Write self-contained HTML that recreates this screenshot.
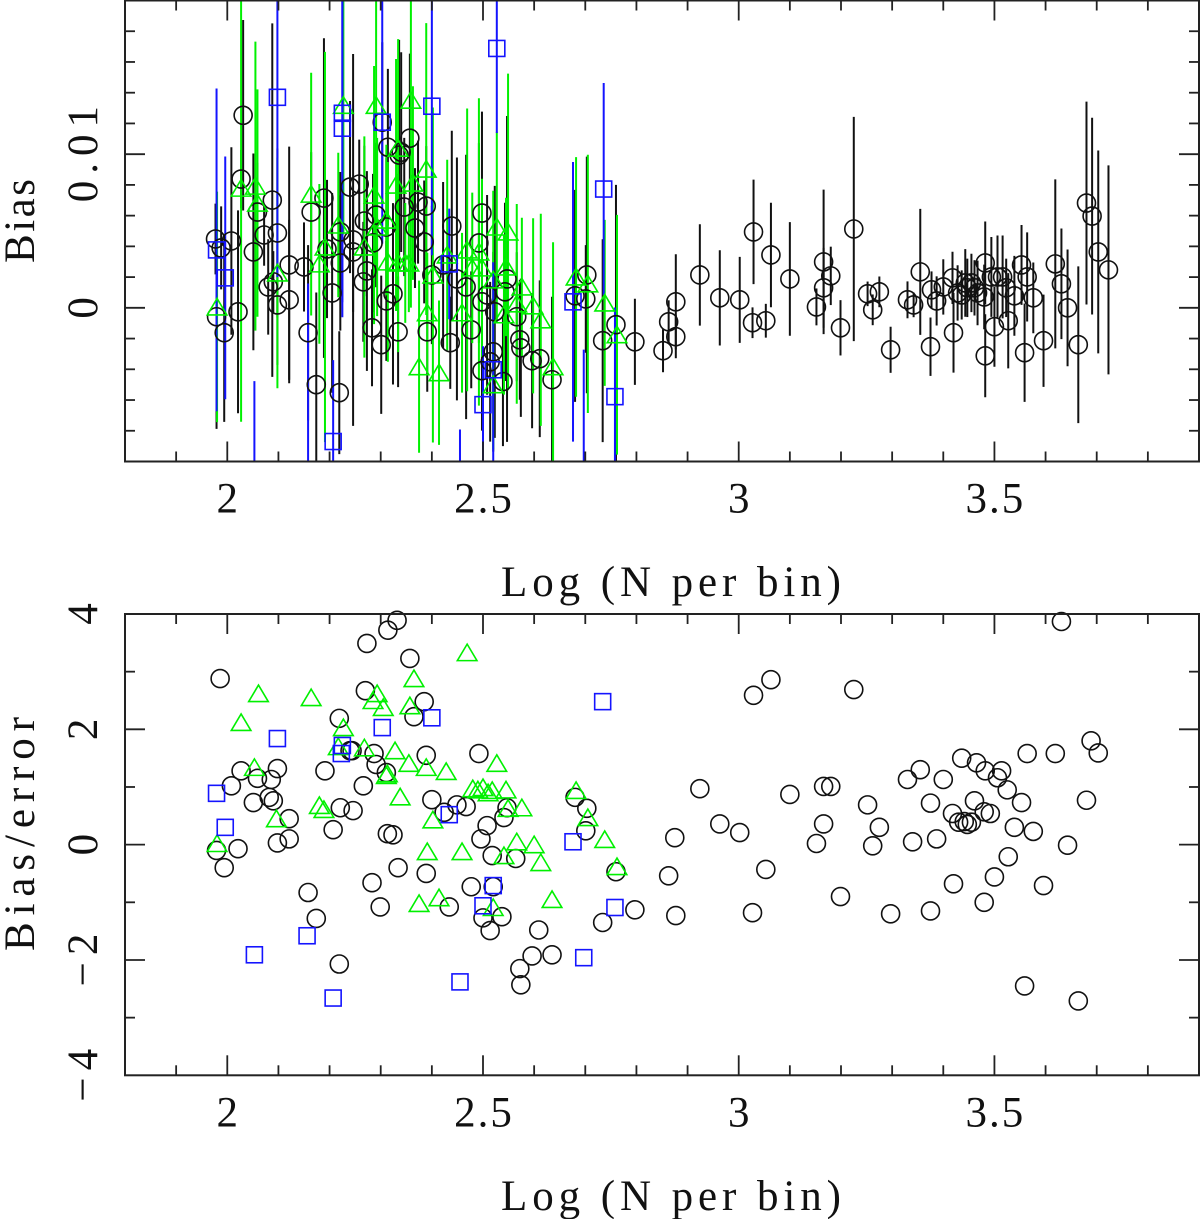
<!DOCTYPE html>
<html lang="en">
<head>
<meta charset="utf-8">
<title>Bias vs Log N per bin</title>
<style>
html,body{margin:0;padding:0;background:#fff;}
svg{display:block;}
text{font-family:"Liberation Serif",serif;font-size:43px;fill:#111;}
</style>
</head>
<body>
<svg id="chart" xmlns="http://www.w3.org/2000/svg" width="1200" height="1219" viewBox="0 0 1200 1219">
<defs>
<clipPath id="clip-top"><rect x="125" y="0.5" width="1074" height="461"/></clipPath>
</defs>
<g id="top-marks" clip-path="url(#clip-top)"></g>
<g id="bottom-marks"></g>
<g id="axes"></g>
<text x="671" y="596" text-anchor="middle" textLength="340" lengthAdjust="spacing">Log (N per bin)</text>
<text x="671" y="1210" text-anchor="middle" textLength="340" lengthAdjust="spacing">Log (N per bin)</text>
<text transform="translate(34,221) rotate(-90)" text-anchor="middle" textLength="84" lengthAdjust="spacing">Bias</text>
<text transform="translate(34,834) rotate(-90)" text-anchor="middle" textLength="234" lengthAdjust="spacing">Bias/error</text>
</svg>
<script>
// Shared tick data
var xMinorTicks = [1.9,2,2.1,2.2,2.3,2.4,2.5,2.6,2.7,2.8,2.9,3,3.1,3.2,3.3,3.4,3.5,3.6,3.7,3.8];
var xMajorTicks = [2,2.5,3,3.5];
var xTickLabels = ["2","2.5","3","3.5"];
var biasMinorTicks = [-0.008,-0.006,-0.004,-0.002,0,0.002,0.004,0.006,0.008,0.01,0.012,0.014,0.016,0.018];
var biasMajorTicks = [0,0.01];
var biasTickLabels = ["0","0.01"];
var ratioMinorTicks = [-3,-2,-1,0,1,2,3];
var ratioMajorTicks = [-4,-2,0,2,4];
var ratioTickLabels = ["\u22124","\u22122","0","2","4"];

// Top panel: black series
var blackBiasLogN = [1.977,1.979,1.988,1.994,2.008,2.021,2.027,2.031,2.051,2.059,2.072,2.080,2.088,2.090,2.098,2.098,2.121,2.121,2.150,2.158,2.164,2.174,2.189,2.195,2.205,2.219,2.221,2.221,2.240,2.246,2.246,2.258,2.266,2.268,2.273,2.283,2.285,2.291,2.301,2.303,2.311,2.311,2.314,2.324,2.334,2.336,2.340,2.346,2.357,2.367,2.373,2.389,2.385,2.391,2.400,2.422,2.436,2.439,2.449,2.467,2.477,2.492,2.498,2.498,2.498,2.508,2.514,2.520,2.523,2.539,2.543,2.547,2.566,2.572,2.574,2.596,2.611,2.635,2.680,2.701,2.703,2.734,2.760,2.797,2.852,2.863,2.877,2.877,2.924,2.963,3.002,3.027,3.029,3.053,3.063,3.100,3.152,3.166,3.166,3.180,3.199,3.225,3.252,3.262,3.275,3.297,3.330,3.342,3.355,3.375,3.377,3.387,3.400,3.418,3.420,3.428,3.436,3.443,3.447,3.455,3.461,3.467,3.482,3.480,3.482,3.494,3.500,3.506,3.516,3.523,3.527,3.539,3.553,3.559,3.564,3.576,3.596,3.619,3.631,3.643,3.664,3.680,3.691,3.703,3.723];
var blackBias = [0.00448,-0.00058,0.0039,-0.00162,0.00435,-0.00026,0.00838,0.01253,0.00364,0.00623,0.00474,0.00136,0.00701,0.00169,0.00487,0.00019,0.00279,0.00052,0.00266,-0.00162,0.00623,-0.005,0.00714,0.00383,0.00097,-0.00552,0.00292,0.00494,0.00786,0.00442,0.00364,0.00805,0.00169,0.00565,0.0024,-0.0013,0.00422,0.00604,-0.0024,0.01208,0.00045,0.00526,0.01045,0.00091,-0.00156,0.00994,0.01013,0.00656,0.01104,0.00519,0.00688,0.00662,0.00429,-0.00156,0.00214,0.00279,-0.00227,0.00532,0.00188,0.00136,-0.00143,0.00422,0.00617,0.00039,-0.00409,0.00084,-0.00351,-0.00286,-0.00026,-0.0048,0.00104,0.00188,-0.00058,-0.00208,-0.0026,-0.00344,-0.00331,-0.00468,0.00078,0.00058,0.00214,-0.00214,-0.0011,-0.00221,-0.00279,-0.00091,0.00039,-0.00188,0.00214,0.00065,0.00052,-0.00097,0.00494,-0.00084,0.00344,0.00188,0.00006,0.00299,0.0013,0.00208,-0.0013,0.00513,0.00091,-0.00013,0.00104,-0.00273,0.00052,0.00019,0.00234,-0.00253,0.00117,0.00045,0.00136,0.00195,-0.00162,0.00097,0.00084,0.00162,0.0013,0.00162,0.0013,0.00097,0.00292,0.00071,-0.00312,0.00201,-0.00123,0.00201,0.00201,0.0013,-0.00084,0.00078,0.00279,-0.00292,0.00201,0.00065,-0.00214,0.00286,0.00156,0,-0.0024,0.00682,0.00597,0.00364,0.00247];
var blackErr = [0.0023,0.0073,0.0027,0.0058,0.0061,0.0066,0.0019,0.0062,0.0064,0.0032,0.002,0.0031,0.0115,0.002,0.0055,0.0039,0.0077,0.0052,0.0029,0.0057,0.0039,0.006,0.0104,0.0045,0.0065,0.004,0.0044,0.0039,0.0056,0.0121,0.0039,0.0029,0.0039,0.0049,0.0065,0.0038,0.0045,0.0047,0.0045,0.0052,0.0039,0.0045,0.0051,0.0059,0.0036,0.0075,0.0065,0.0045,0.0055,0.0039,0.004,0.0039,0.004,0.0039,0.0045,0.0054,0.003,0.0062,0.0079,0.0086,0.0038,0.0065,0.0066,0.0045,0.0039,0.0065,0.0052,0.0065,0.0082,0.0042,0.0058,0.0106,0.0042,0.0039,0.0045,0.0044,0.0051,0.0054,0.0069,0.0035,0.0077,0.0066,0.0091,0.0028,0.0014,0.0014,0.0031,0.0014,0.0033,0.0031,0.0028,0.001,0.0034,0.0011,0.0034,0.0037,0.0012,0.0047,0.0026,0.0019,0.0018,0.0073,0.0008,0.001,0.001,0.0015,0.0012,0.0008,0.0041,0.0019,0.0012,0.0016,0.0018,0.0017,0.0026,0.0018,0.0016,0.0022,0.0019,0.0019,0.0018,0.0021,0.0027,0.0021,0.0027,0.0026,0.0026,0.0027,0.0027,0.0019,0.0031,0.0026,0.0026,0.0032,0.0029,0.0023,0.003,0.0055,0.0036,0.0038,0.0051,0.0066,0.0064,0.0066,0.0068];

// Top panel: green series
var greenBiasLogN = [1.980,2.027,2.055,2.059,2.098,2.164,2.180,2.191,2.217,2.227,2.268,2.287,2.291,2.293,2.311,2.314,2.330,2.334,2.334,2.348,2.355,2.359,2.363,2.375,2.389,2.391,2.402,2.414,2.430,2.459,2.469,2.479,2.492,2.498,2.520,2.520,2.527,2.541,2.545,2.549,2.566,2.576,2.598,2.613,2.637,2.682,2.705,2.738,2.762];
var greenBias = [0.00006,0.00779,0.00792,0.00682,0.00227,0.0074,0.00286,0.00396,0.00539,0.01318,0.00396,0.00734,0.01318,0.00526,0.00571,0.00299,0.00799,0.01039,0.00292,0.00292,0.00292,0.01351,0.00812,-0.00383,0.00903,-0.00032,0.00214,-0.00422,0.00344,-0.00032,0.00377,0.0026,0.00364,0.0026,0.00182,-0.005,0.00526,-0.00045,0.00266,0.00494,0.00026,0.00136,0.00013,-0.00078,-0.00383,0.00201,0.00156,0.00032,-0.00175];
var greenErr = [0.0075,0.0152,0.0094,0.0074,0.0075,0.0079,0.0052,0.0127,0.0047,0.0084,0.0072,0.0084,0.0104,0.0058,0.0049,0.0065,0.0082,0.0071,0.0058,0.0039,0.0032,0.0135,0.0063,0.0056,0.0095,0.0039,0.0109,0.0047,0.0062,0.0052,0.0092,0.0049,0.01,0.0058,0.0058,0.0042,0.0062,0.0052,0.0045,0.0103,0.0065,0.0045,0.0057,0.0069,0.0081,0.0078,0.0084,0.0054,0.0078];

// Top panel: blue series
var blueBiasLogN = [1.979,1.996,2.053,2.098,2.158,2.207,2.225,2.225,2.303,2.400,2.434,2.455,2.500,2.520,2.527,2.676,2.697,2.736,2.758];
var blueBias = [0.00377,0.00195,-0.01247,0.0137,-0.01052,-0.0087,0.01266,0.01169,0.01208,0.01312,0.00286,-0.01182,-0.0063,-0.00403,0.01688,0.00039,-0.01052,0.00773,-0.00578];
var blueErr = [0.0105,0.0079,0.0077,0.0117,0.0121,0.0053,0.0123,0.0123,0.0079,0.0097,0.0036,0.0039,0.0038,0.007,0.0055,0.0091,0.0078,0.0069,0.0058];

// Bottom panel: black series
var blackRatioLogN = [1.979,1.986,1.994,2.008,2.021,2.027,2.051,2.059,2.082,2.086,2.090,2.098,2.098,2.121,2.121,2.158,2.174,2.191,2.207,2.219,2.219,2.221,2.240,2.244,2.246,2.266,2.270,2.273,2.283,2.287,2.291,2.299,2.311,2.313,2.314,2.324,2.332,2.334,2.357,2.365,2.385,2.389,2.389,2.400,2.424,2.434,2.449,2.467,2.477,2.492,2.496,2.500,2.508,2.514,2.518,2.520,2.537,2.541,2.547,2.564,2.572,2.574,2.596,2.609,2.635,2.680,2.703,2.701,2.734,2.760,2.797,2.863,2.875,2.877,2.924,2.963,3.002,3.027,3.029,3.053,3.063,3.100,3.152,3.166,3.166,3.180,3.199,3.225,3.252,3.262,3.275,3.297,3.330,3.340,3.355,3.375,3.375,3.387,3.400,3.418,3.420,3.430,3.436,3.441,3.447,3.455,3.461,3.465,3.480,3.480,3.482,3.492,3.500,3.506,3.514,3.525,3.527,3.539,3.553,3.559,3.564,3.576,3.596,3.619,3.631,3.643,3.664,3.680,3.689,3.703];
var blackRatio = [-0.10,2.88,-0.40,1.02,-0.07,1.28,0.73,1.15,0.82,1.13,0.76,1.32,0.03,0.45,0.10,-0.83,-1.28,1.28,0.26,-2.07,2.19,0.64,1.63,1.63,0.59,1.02,2.67,3.49,-0.66,1.58,1.39,-1.08,1.25,0.19,3.72,0.17,3.89,-0.40,3.23,2.22,2.48,1.55,-0.50,0.78,0.56,-1.08,0.69,0.66,-0.73,1.58,0.10,-1.27,0.33,-1.49,-0.19,-0.73,-1.25,0.47,0.64,-0.24,-2.15,-2.43,-1.93,-1.48,-1.91,0.82,0.63,0.24,-1.35,-0.47,-1.13,-0.54,0.12,-1.23,0.97,0.36,0.21,-1.18,2.59,-0.43,2.86,0.87,0.02,1.01,0.36,1.01,-0.90,2.69,0.69,-0.02,0.30,-1.20,1.13,0.05,1.30,0.72,-1.15,0.10,1.13,0.54,-0.68,0.39,1.50,0.40,0.35,0.39,0.76,1.42,0.57,-1.0,1.28,0.54,-0.56,1.16,1.28,0.95,-0.21,0.30,0.73,-2.45,1.58,0.23,-0.71,1.58,3.87,-0.01,-2.71,0.77,1.80,1.59];

// Bottom panel: green series
var greenRatioLogN = [1.980,2.027,2.053,2.061,2.096,2.164,2.180,2.189,2.217,2.227,2.268,2.285,2.293,2.305,2.311,2.313,2.328,2.338,2.355,2.357,2.365,2.375,2.389,2.391,2.402,2.414,2.428,2.459,2.469,2.480,2.490,2.500,2.510,2.518,2.527,2.545,2.549,2.566,2.576,2.600,2.541,2.613,2.635,2.520,2.682,2.705,2.738,2.762];
var greenRatio = [0.02,2.12,1.34,2.62,0.45,2.55,0.68,0.61,1.70,2.03,1.68,2.50,2.62,2.38,1.20,1.23,1.63,0.83,1.41,2.41,2.88,-1.02,1.34,-0.12,0.43,-0.92,1.27,-0.12,3.33,0.97,0.95,0.99,0.90,0.94,1.41,0.95,0.63,0.05,0.64,0,-0.19,-0.31,-0.95,-1.09,0.94,0.47,0.09,-0.38];

// Bottom panel: blue series
var blueRatioLogN = [1.979,1.996,2.053,2.098,2.156,2.207,2.225,2.223,2.303,2.400,2.434,2.455,2.500,2.520,2.676,2.697,2.734,2.758];
var blueRatio = [0.89,0.30,-1.91,1.84,-1.58,-2.66,1.72,1.58,2.03,2.20,0.52,-2.38,-1.06,-0.71,0.05,-1.96,2.48,-1.09];

var NS = 'http://www.w3.org/2000/svg';
var LEFT = 125, RIGHT = 1199;
var TOP1 = 0.5, BOT1 = 461.5, TOP2 = 614, BOT2 = 1075.3;
var INK = '#111';
var GREEN = '#00f000';
var BLUE = '#1414ff';

function xScale(v){ return LEFT + (v - 1.8) * (RIGHT - LEFT) / (3.9 - 1.8); }
function yBias(v){ return BOT1 - (v + 0.01) * (BOT1 - TOP1) / 0.03; }
function yRatio(v){ return BOT2 - (v + 4) * (BOT2 - TOP2) / 8; }

function make(tag, attrs, parent){
  var el = document.createElementNS(NS, tag);
  for (var k in attrs) el.setAttribute(k, attrs[k]);
  parent.appendChild(el);
  return el;
}

function drawBar(parent, x, y1, y2, color){
  var el = make('line', {x1:x, x2:x, y1:y1, y2:y2, stroke:color, 'stroke-width':2}, parent);
  
  
}

function drawCircle(parent, x, y){
  var el = make('circle', {cx:x, cy:y, r:9, fill:'none', stroke:INK, 'stroke-width':1.6}, parent);
  
  
}

function drawTriangle(parent, x, y){
  var pts = x + ',' + (y - 8.5) + ' ' + (x + 9.8) + ',' + (y + 8) + ' ' + (x - 9.8) + ',' + (y + 8);
  var el = make('polygon', {points:pts, fill:'none', stroke:GREEN, 'stroke-width':1.6}, parent);
  
  
}

function drawSquare(parent, x, y){
  var el = make('rect', {x:x - 8, y:y - 8, width:16, height:16, fill:'none', stroke:BLUE, 'stroke-width':1.6}, parent);
  
  
}

function drawBars(parent, xs, vals, errs, color){
  for (var i = 0; i < xs.length; i++) {
    drawBar(parent, xScale(xs[i]), yBias(vals[i] + errs[i]), yBias(vals[i] - errs[i]), color);
  }
}

function drawMarks(parent, xs, vals, yFn, marker){
  for (var i = 0; i < xs.length; i++) {
    marker(parent, xScale(xs[i]), yFn(vals[i]));
  }
}

var topG = document.getElementById('top-marks');
var botG = document.getElementById('bottom-marks');

drawBars(topG, blackBiasLogN, blackBias, blackErr, INK);
drawBars(topG, greenBiasLogN, greenBias, greenErr, GREEN);
drawBars(topG, blueBiasLogN, blueBias, blueErr, BLUE);
drawMarks(topG, blackBiasLogN, blackBias, yBias, drawCircle);
drawMarks(topG, greenBiasLogN, greenBias, yBias, drawTriangle);
drawMarks(topG, blueBiasLogN, blueBias, yBias, drawSquare);

drawMarks(botG, blackRatioLogN, blackRatio, yRatio, drawCircle);
drawMarks(botG, greenRatioLogN, greenRatio, yRatio, drawTriangle);
drawMarks(botG, blueRatioLogN, blueRatio, yRatio, drawSquare);

var axes = document.getElementById('axes');

function tickLine(x1, y1, x2, y2){
  var el = make('line', {x1:x1, y1:y1, x2:x2, y2:y2, stroke:'#222', 'stroke-width':1.8}, axes);
  
  
}

function drawPanel(top, bottom, yFn, yMinor, yMajor, yLabels){
  var frame = make('rect', {x:LEFT, y:top, width:RIGHT - LEFT, height:bottom - top, fill:'none', stroke:'#222', 'stroke-width':2}, axes);
  
  
  var i, p, len;
  for (i = 0; i < xMinorTicks.length; i++) {
    p = xScale(xMinorTicks[i]);
    len = xMajorTicks.indexOf(xMinorTicks[i]) >= 0 ? 20 : 10;
    tickLine(p, bottom, p, bottom - len);
    tickLine(p, top, p, top + len);
  }
  for (i = 0; i < yMinor.length; i++) {
    p = yFn(yMinor[i]);
    len = yMajor.indexOf(yMinor[i]) >= 0 ? 20 : 10;
    tickLine(LEFT, p, LEFT + len, p);
    tickLine(RIGHT, p, RIGHT - len, p);
  }
  for (i = 0; i < xMajorTicks.length; i++) {
    var xl = make('text', {x:xScale(xMajorTicks[i]), y:bottom + 51, dx:'1', 'text-anchor':'middle', 'letter-spacing':'2'}, axes);
    xl.textContent = xTickLabels[i];
    
    
  }
  for (i = 0; i < yMajor.length; i++) {
    var t = 'translate(97,' + yFn(yMajor[i]) + ') rotate(-90)';
    var yl = make('text', {transform:t, dx:'3.5', 'text-anchor':'middle', 'letter-spacing':'7'}, axes);
    yl.textContent = yLabels[i];
    
    
  }
}

drawPanel(TOP1, BOT1, yBias, biasMinorTicks, biasMajorTicks, biasTickLabels);
drawPanel(TOP2, BOT2, yRatio, ratioMinorTicks, ratioMajorTicks, ratioTickLabels);
</script>
</body>
</html>
